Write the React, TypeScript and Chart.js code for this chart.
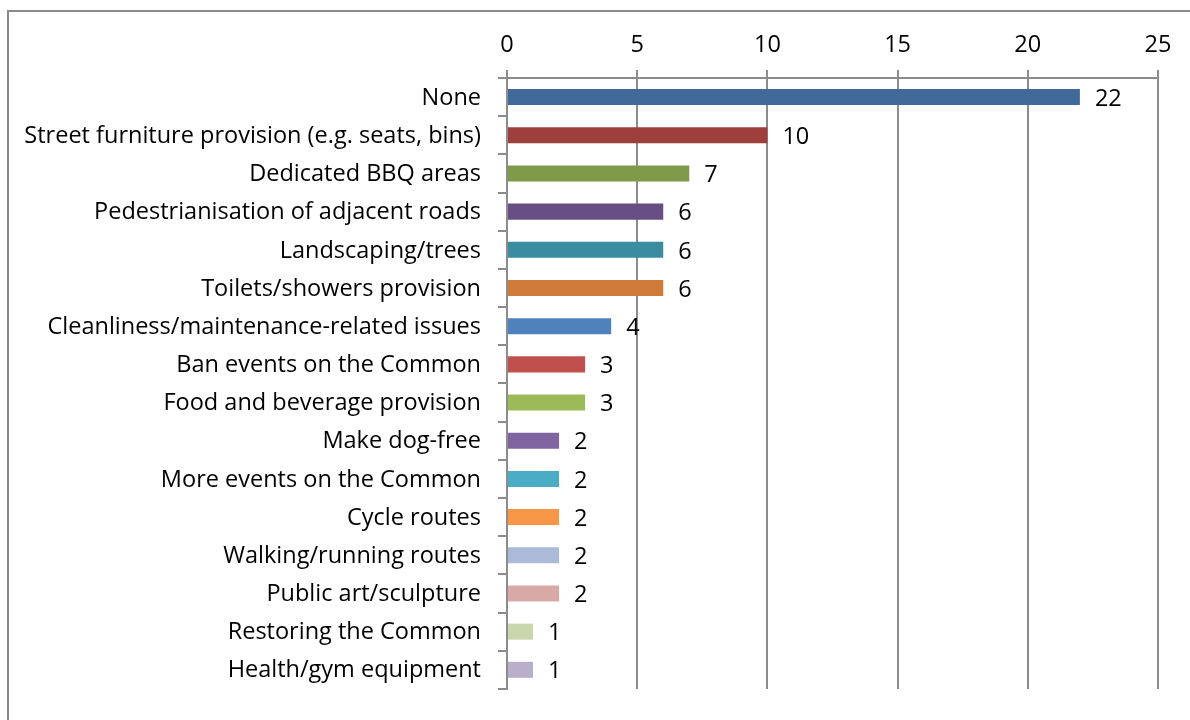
import React, { useEffect, useRef } from "react";
import { Chart, registerables } from "chart.js";

Chart.register(...registerables);

const categories = [
  "None",
  "Street furniture provision (e.g. seats, bins)",
  "Dedicated BBQ areas",
  "Pedestrianisation of adjacent roads",
  "Landscaping/trees",
  "Toilets/showers provision",
  "Cleanliness/maintenance-related issues",
  "Ban events on the Common",
  "Food and beverage provision",
  "Make dog-free",
  "More events on the Common",
  "Cycle routes",
  "Walking/running routes",
  "Public art/sculpture",
  "Restoring the Common",
  "Health/gym equipment",
];

const values = [22, 10, 7, 6, 6, 6, 4, 3, 3, 2, 2, 2, 2, 2, 1, 1];

const barColors = [
  "#41699A",
  "#9D3F3D",
  "#7F9B49",
  "#674F84",
  "#3B8CA1",
  "#CF7B38",
  "#4F81BD",
  "#C0504D",
  "#9BBB59",
  "#8064A2",
  "#4BACC6",
  "#F79646",
  "#AABAD8",
  "#D9A9A8",
  "#C8D7AD",
  "#B9AFCB",
];

const xTicks = [0, 5, 10, 15, 20, 25];

const FONT = "'Open Sans', Lato, sans-serif";
const FONT_SIZE = 23.5;
const AXIS_COLOR = "#8c8c8c";

const dataLabelPlugin = {
  id: "dataLabels",
  afterDatasetsDraw(chart: any) {
    const ctx = chart.ctx;
    const meta = chart.getDatasetMeta(0);
    ctx.save();
    ctx.font = `${FONT_SIZE}px ${FONT}`;
    ctx.fillStyle = "#000000";
    ctx.textAlign = "left";
    ctx.textBaseline = "middle";
    meta.data.forEach((bar: any, i: number) => {
      ctx.fillText(String(values[i]), bar.x + 15, bar.y + 2);
    });
    ctx.restore();
  },
};

export default function App() {
  const canvasRef = useRef<HTMLCanvasElement | null>(null);

  useEffect(() => {
    if (!canvasRef.current) return;
    const chart = new Chart(canvasRef.current, {
      type: "bar",
      data: {
        labels: categories,
        datasets: [
          {
            data: values,
            backgroundColor: barColors,
            borderWidth: 0,
            barPercentage: 0.42,
            categoryPercentage: 1,
          },
        ],
      },
      options: {
        indexAxis: "y",
        animation: false,
        responsive: false,
        maintainAspectRatio: false,
        layout: { padding: { left: 0, right: 32, top: 0, bottom: 22 } },
        plugins: {
          legend: { display: false },
          tooltip: { enabled: false },
          title: { display: false },
        },
        scales: {
          x: {
            position: "top",
            min: 0,
            max: 25,
            afterBuildTicks: (scale: any) => {
              scale.ticks = xTicks.map((v) => ({ value: v }));
            },
            afterFit: (scale: any) => {
              scale.height = 78;
            },
            grid: {
              color: AXIS_COLOR,
              lineWidth: 2,
              tickLength: 8,
              drawOnChartArea: true,
            },
            border: { display: true, color: AXIS_COLOR, width: 2 },
            ticks: {
              color: "#000000",
              font: { family: FONT, size: FONT_SIZE },
              padding: 11,
              maxRotation: 0,
            },
          },
          y: {
            afterFit: (scale: any) => {
              scale.width = 507;
            },
            grid: {
              offset: true,
              drawOnChartArea: false,
              color: AXIS_COLOR,
              lineWidth: 2,
              tickLength: 9,
            },
            border: { display: true, color: AXIS_COLOR, width: 2 },
            ticks: {
              color: "#000000",
              font: { family: FONT, size: FONT_SIZE },
              padding: 17,
              labelOffset: 1,
              autoSkip: false,
            },
          },
        },
      },
      plugins: [dataLabelPlugin],
    } as any);
    return () => chart.destroy();
  }, []);

  return (
    <div
      style={{
        position: "fixed",
        left: 0,
        top: 0,
        width: 1190,
        height: 720,
        overflow: "hidden",
        background: "#ffffff",
      }}
    >
      <div
        style={{
          position: "absolute",
          left: 7,
          top: 10,
          width: 1300,
          height: 800,
          borderLeft: "2px solid #8a8a8a",
          borderTop: "2px solid #8a8a8a",
          boxSizing: "border-box",
        }}
      />
      <canvas
        ref={canvasRef}
        width={1190}
        height={720}
        style={{ position: "absolute", left: 0, top: 0, width: 1190, height: 720 }}
      />
    </div>
  );
}
